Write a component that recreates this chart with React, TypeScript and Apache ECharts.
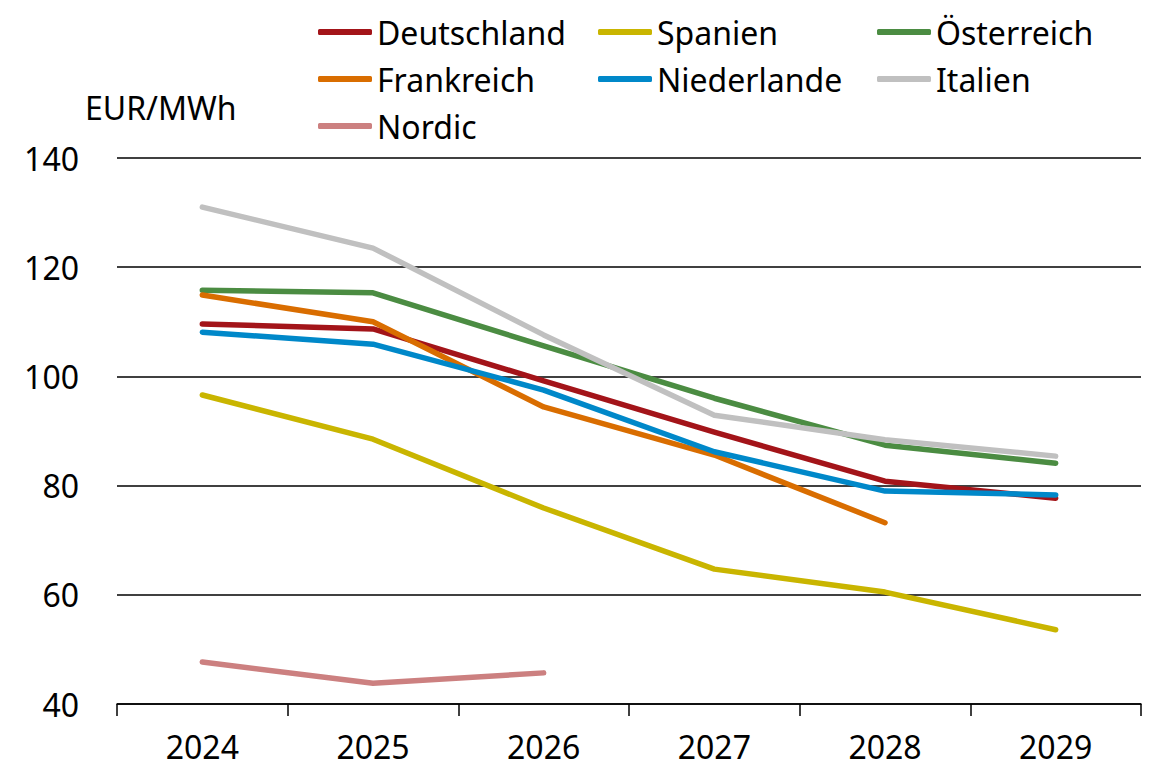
import React, { useEffect, useRef } from "react";
import * as echarts from "echarts";

const years = ["2024", "2025", "2026", "2027", "2028", "2029"];
const deutschland = [109.6, 108.7, 99.2, 89.8, 80.8, 77.7];
const spanien = [96.6, 88.5, 75.9, 64.7, 60.5, 53.6];
const oesterreich = [115.8, 115.3, 105.6, 96.0, 87.4, 84.1];
const frankreich = [114.9, 110.0, 94.4, 85.6, 73.2, null];
const niederlande = [108.1, 105.9, 97.5, 86.2, 79.0, 78.3];
const italien = [131.0, 123.5, 107.6, 92.9, 88.4, 85.4];
const nordic = [47.7, 43.8, 45.7, null, null, null];
const unitLabel = "EUR/MWh";

const FONT = "'Noto Sans', sans-serif";

export default function App() {
  const ref = useRef<HTMLDivElement>(null);
  useEffect(() => {
    if (!ref.current) return;
    const chart = echarts.init(ref.current, null, { renderer: "svg" });
    const mk = (name: string, data: (number | null)[], color: string) => ({
      name,
      type: "line",
      data,
      symbol: "none",
      showSymbol: false,
      connectNulls: false,
      lineStyle: { width: 5.5, color, cap: "round", join: "round" },
      itemStyle: { color },
    });
    const legendCommon = {
      orient: "vertical",
      top: 12,
      padding: 0,
      itemWidth: 54,
      itemHeight: 6,
      itemGap: 7,
      icon: "roundRect",
      textStyle: { fontFamily: FONT, fontSize: 32, color: "#000", lineHeight: 40 },
    };
    chart.setOption({
      animation: false,
      backgroundColor: "#fff",
      textStyle: { fontFamily: FONT },
      grid: { left: 117, right: 19, top: 158, bottom: 66, containLabel: false },
      legend: [
        { ...legendCommon, left: 318, data: ["Deutschland", "Frankreich", "Nordic"] },
        { ...legendCommon, left: 598, data: ["Spanien", "Niederlande"] },
        { ...legendCommon, left: 877, data: ["Österreich", "Italien"] },
      ],
      graphic: [
        {
          type: "text",
          left: 85,
          top: 91,
          style: { text: unitLabel, fontFamily: FONT, fontSize: 32, fill: "#000" },
        },
      ],
      xAxis: {
        type: "category",
        data: years,
        boundaryGap: true,
        axisLine: { lineStyle: { color: "#000", width: 1.5 } },
        axisTick: { show: true, length: 12, inside: false, lineStyle: { color: "#000", width: 1.5 } },
        axisLabel: { color: "#000", fontSize: 32, fontFamily: FONT, margin: 26 },
        splitLine: { show: false },
      },
      yAxis: {
        type: "value",
        min: 40,
        max: 140,
        interval: 20,
        axisLine: { show: false },
        axisTick: { show: false },
        axisLabel: { color: "#000", fontSize: 32, fontFamily: FONT, margin: 38 },
        splitLine: { lineStyle: { color: "#000", width: 1.5 } },
      },
      series: [
        mk("Deutschland", deutschland, "#A31419"),
        mk("Spanien", spanien, "#C9B500"),
        mk("Österreich", oesterreich, "#4B8C42"),
        mk("Frankreich", frankreich, "#D96D00"),
        mk("Niederlande", niederlande, "#0088C9"),
        mk("Italien", italien, "#C0C0C0"),
        mk("Nordic", nordic, "#CC8080"),
      ],
    });
    return () => chart.dispose();
  }, []);
  return <div ref={ref} style={{ width: 1160, height: 770, margin: -8 }} />;
}
